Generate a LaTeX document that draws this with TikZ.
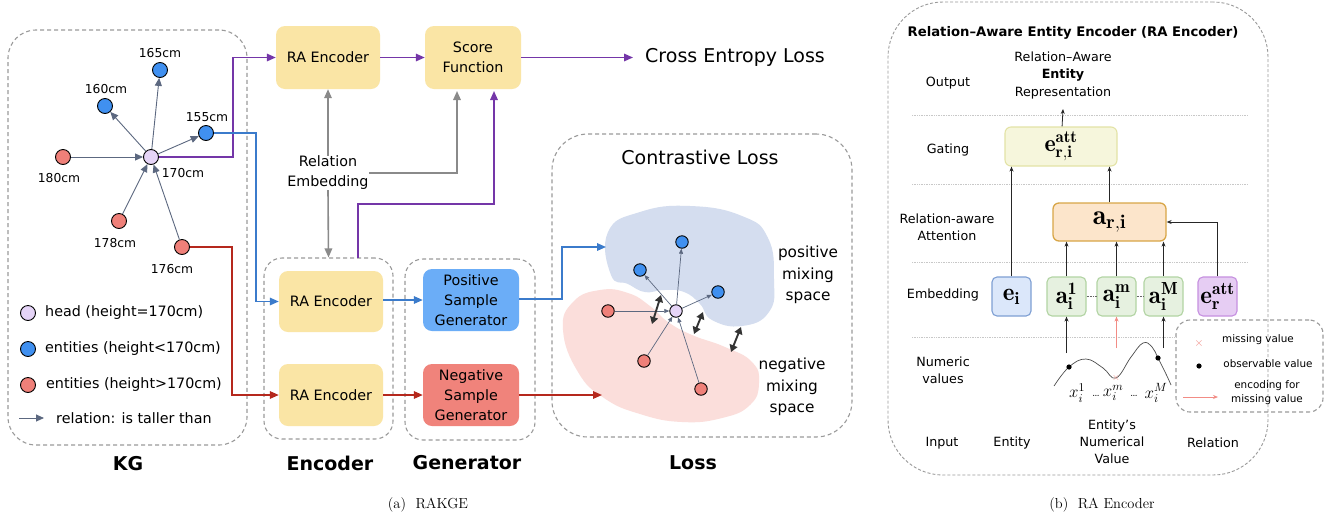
\RequirePackage{fix-cm}
\documentclass[tikz,border=0pt]{standalone}
\usepackage{fontspec}
\newfontfamily\dv{DejaVu Sans}
\usetikzlibrary{arrows.meta}
\newcommand\myfs[2]{\fontsize{#1}{#2}\selectfont}
\definecolor{cpurp}{HTML}{7436A8}
\definecolor{cblue}{HTML}{3B7BCB}
\definecolor{cred}{HTML}{B5281D}
\definecolor{cgray}{HTML}{8A8A8A}
\definecolor{kgedge}{HTML}{5C6880}
\definecolor{nblue}{HTML}{4090F0}
\definecolor{nred}{HTML}{EF8079}
\definecolor{nhead}{HTML}{E5D4F7}
\definecolor{yb}{HTML}{FAE5A5}
\definecolor{posb}{HTML}{6BADF7}
\definecolor{negb}{HTML}{F0837B}
\definecolor{blobb}{HTML}{D4DDEF}
\definecolor{blobr}{HTML}{FBDEDB}
\definecolor{dgray}{HTML}{9A9A9A}
\definecolor{gatef}{HTML}{F6F6DC}
\definecolor{gated}{HTML}{E3E3A6}
\definecolor{attf}{HTML}{FCE5CB}
\definecolor{attd}{HTML}{D8A647}
\definecolor{eif}{HTML}{DBE7FA}
\definecolor{eid}{HTML}{7E9FD3}
\definecolor{agf}{HTML}{E6F1E0}
\definecolor{agd}{HTML}{B2D4A3}
\definecolor{erf}{HTML}{E6CDF3}
\definecolor{erd}{HTML}{C690E0}
\definecolor{pinkc}{HTML}{F28C85}
\definecolor{sepc}{HTML}{C8C8C8}
\begin{document}
\begin{tikzpicture}[x=1pt,y=-1pt,
 grp/.style={draw=dgray, line width=1.1pt, dash pattern=on 4pt off 3pt, rounded corners=#1, inner sep=0pt},
 kgn/.style={circle, draw=black, line width=0.9pt, minimum size=15pt, inner sep=0pt},
 bn/.style={kgn, fill=nblue}, rn/.style={kgn, fill=nred}, hn/.style={kgn, fill=nhead},
 smalln/.style={minimum size=12.5pt},
 kge/.style={draw=kgedge, line width=0.9pt, -{Triangle[length=8pt,width=7pt]}},
 kges/.style={draw=kgedge, line width=0.7pt, -{Triangle[length=5pt,width=4pt]}},
 lbl/.style={font=\dv\myfs{12.3}{14}, inner sep=0pt},
 lgt/.style={font=\dv\myfs{14.3}{17}, inner sep=0pt, anchor=west},
 txt/.style={font=\dv\myfs{14.3}{20}, align=center, inner sep=0pt},
 boldlbl/.style={font=\dv\bfseries\myfs{19}{22}, inner sep=0pt},
 mbox/.style={rounded corners=9pt, align=center, font=\dv\myfs{14.3}{20}, inner sep=0pt},
 ybox/.style={mbox, fill=yb},
 lnpurp/.style={draw=cpurp, line width=1.6pt, -{Triangle[length=9pt,width=7.5pt]}},
 lnblue/.style={draw=cblue, line width=1.6pt, -{Triangle[length=9pt,width=7.5pt]}},
 lnred/.style={draw=cred, line width=1.6pt, -{Triangle[length=9pt,width=7.5pt]}},
 lngray/.style={draw=cgray, line width=1.6pt, -{Triangle[length=9pt,width=7.5pt]}},
 dblarr/.style={draw=black!80, line width=1.9pt, {Triangle[length=7pt,width=8pt]}-{Triangle[length=7pt,width=8pt]}},
 rl/.style={font=\dv\myfs{12.7}{17}, align=center, inner sep=0pt},
 ebox/.style={rounded corners=5pt, line width=1.1pt, minimum width=39pt, minimum height=39pt, inner sep=0pt, font=\myfs{25}{25}},
 raarr/.style={draw=black!85, line width=0.8pt, -{Stealth[length=5pt,width=4pt]}},
 sepline/.style={draw=sepc, line width=0.7pt, densely dotted},
 xlab/.style={font=\myfs{17}{17}, inner sep=0pt},
]
\useasboundingbox (0,0) rectangle (1338,523);
\fill[white] (0,0) rectangle (1338,523);

% ---------------- KG panel
\node[grp=28pt, minimum width=239pt, minimum height=415pt] (kgg) at (127.5,237.5) {};
\node[hn] (h) at (151,157) {};
\node[bn] (b165) at (160,70) {};
\node[bn] (b160) at (105,106) {};
\node[bn] (b155) at (206,133) {};
\node[rn] (r180) at (63,157) {};
\node[rn] (r178) at (119,221) {};
\node[rn] (r176) at (182,247) {};
\node[lbl] (l165) at (160,53) {165cm};
\node[lbl] (l160) at (106,89) {160cm};
\node[lbl] (l155) at (207,117) {155cm};
\node[lbl] (l170) at (183,173) {170cm};
\node[lbl] (l180) at (59,178) {180cm};
\node[lbl] (l178) at (115,243) {178cm};
\node[lbl] (l176) at (172,269) {176cm};
\draw[kge] (h) -- (b165);
\draw[kge] (h) -- (b160);
\draw[kge] (h) -- (b155);
\draw[kge] (r180) -- (h);
\draw[kge] (r178) -- (h);
\draw[kge] (r176) -- (h);
% legend
\node[hn] (lh) at (28,313) {};
\node[lgt] (lht) at (45,313) {head (height=170cm)};
\node[bn] (lb) at (28,349) {};
\node[lgt] (lbt) at (45,349) {entities (height<170cm)};
\node[rn] (lr) at (28,385) {};
\node[lgt] (lrt) at (46,385) {entities (height>170cm)};
\coordinate (la1) at (19,418);
\coordinate (la2) at (44,418);
\draw[kge] (la1) -- (la2);
\node[lgt] (lat) at (56,418) {relation: is taller than};
\node[boldlbl] (kgl) at (128,464) {KG};

% ---------------- middle
\node[ybox, minimum width=104pt, minimum height=63pt] (ra1) at (328,57.5) {RA Encoder};
\node[ybox, minimum width=96pt, minimum height=63pt] (sf) at (473,57.5) {Score\\Function};
\node[font=\dv\myfs{19}{22}, anchor=west, inner xsep=12pt, inner ysep=0pt] (ce) at (633,57.5) {Cross Entropy Loss};
\draw[lnpurp] (ra1) -- (sf);
\draw[lnpurp] (sf) -- (ce);
\node[txt] (re) at (328,173) {Relation\\Embedding};

\node[grp=18pt, minimum width=129pt, minimum height=181pt] (encg) at (328.5,348.5) {};
\node[grp=18pt, minimum width=130pt, minimum height=181pt] (geng) at (470,349.5) {};
\node[ybox, minimum width=104pt, minimum height=61pt] (ra2) at (331,301.5) {RA Encoder};
\node[ybox, minimum width=104pt, minimum height=62pt] (ra3) at (331,395) {RA Encoder};
\node[mbox, fill=posb, minimum width=96pt, minimum height=62pt] (pos) at (471,300) {Positive\\Sample\\Generator};
\node[mbox, fill=negb, minimum width=96pt, minimum height=62pt] (neg) at (471,395) {Negative\\Sample\\Generator};
\node[boldlbl] (encl) at (330,463) {Encoder};
\node[boldlbl] (genl) at (467,463) {Generator};

% connectors
\coordinate (pc1) at (233,157);
\draw[lnpurp] (h) -- (pc1) |- (ra1);
\coordinate (bc1) at (256,133);
\draw[lnblue] (b155) -- (bc1) |- (ra2);
\coordinate (rc1) at (232,247);
\draw[lnred] (r176) -- (rc1) |- (ra3);
\draw[lngray] (re.north) -- (ra1.south);
\coordinate (sfg) at (457,91);
\draw[lngray] (re.east) -| (sfg);
\draw[lngray] (re.south) -- (encg.north);
\coordinate (pp1) at (358,258);
\coordinate (pp2) at (494,204);
\coordinate (sfp) at (494,91);
\draw[lnpurp] (pp1) |- (pp2) -- (sfp);
\draw[lnblue] (ra2.east |- pos.west) -- (pos.west);
\draw[lnred] (ra3) -- (neg);

% ---------------- Loss panel
\node[grp=36pt, minimum width=300pt, minimum height=303pt] (lossg) at (702,285.5) {};
\node[font=\dv\myfs{19}{22}, inner sep=0pt] (ctl) at (700,157) {Contrastive Loss};
\node[boldlbl] (lossl) at (693,463) {Loss};
\fill[blobr] plot[smooth cycle, tension=0.8] coordinates {(563,330) (573,302) (600,290) (628,293) (650,306) (668,322) (692,335) (725,347) (752,362) (759,383) (750,405) (722,418) (682,422) (640,414) (604,398) (578,372)};
\fill[blobb] plot[smooth cycle, tension=0.8] coordinates {(608,232) (640,212) (690,206) (742,216) (768,238) (774,280) (769,312) (742,326) (712,320) (700,304) (684,292) (664,290) (645,292) (628,284) (611,275)};
\node[hn, smalln] (lh0) at (676,311) {};
\node[bn, smalln] (lb1) at (682,242) {};
\node[bn, smalln] (lb2) at (640,270) {};
\node[bn, smalln] (lb3) at (718,292) {};
\node[rn, smalln] (lr1) at (608,311) {};
\node[rn, smalln] (lr2) at (644,361) {};
\node[rn, smalln] (lr3) at (701,389) {};
\draw[kges] (lh0) -- (lb1);
\draw[kges] (lh0) -- (lb2);
\draw[kges] (lh0) -- (lb3);
\draw[kges] (lr1) -- (lh0);
\draw[kges] (lr2) -- (lh0);
\draw[kges] (lr3) -- (lh0);
\coordinate (d1a) at (661,295); \coordinate (d1b) at (652,324);
\coordinate (d2a) at (703,312); \coordinate (d2b) at (694,334);
\coordinate (d3a) at (741,327); \coordinate (d3b) at (731,352);
\draw[dblarr] (d1a) -- (d1b);
\draw[dblarr] (d2a) -- (d2b);
\draw[dblarr] (d3a) -- (d3b);
\node[font=\dv\myfs{15.3}{21.5}, align=center, inner sep=0pt] (pms) at (808,275) {positive\\mixing\\space};
\node[font=\dv\myfs{15.3}{21.5}, align=center, inner sep=0pt] (nms) at (792,387) {negative\\mixing\\space};
\coordinate (pin) at (606,247);
\coordinate (pc2) at (562,247);
\draw[lnblue] (pos.east |- 0,299) -| (pc2) -- (pin);
\coordinate (nin) at (602,395);
\draw[lnred] (neg) -- (nin);

% ---------------- RA Encoder panel
\node[draw=dgray, line width=0.9pt, dash pattern=on 3pt off 2pt, rounded corners=55pt, minimum width=380pt, minimum height=473pt, inner sep=0pt] (rag) at (1078,238.5) {};
\node[font=\dv\bfseries\myfs{13.2}{15}, inner sep=0pt] (rat) at (1073,33) {Relation–Aware Entity Encoder (RA Encoder)};
\draw[sepline] (912,115) -- (1248,115);
\draw[sepline] (912,184) -- (1248,184);
\draw[sepline] (912,262) -- (1248,262);
\draw[sepline] (912,337) -- (1176,337);
\node[rl] (outl) at (948,83) {Output};
\node[rl] (gatl) at (948,150) {Gating};
\node[rl] (attl) at (947,227) {Relation-aware\\Attention};
\node[rl] (embl) at (943,295) {Embedding};
\node[rl] (numl) at (943,370) {Numeric\\values};
\node[rl] (inpl) at (942,443) {Input};
\node[rl] (entl) at (1012,443) {Entity};
\node[rl] (nvl) at (1112,442) {Entity’s\\Numerical\\Value};
\node[rl] (rell) at (1213,443) {Relation};
\node[rl, font=\dv\myfs{12.7}{17.5}] (outt) at (1063,75) {Relation–Aware\\\textbf{Entity}\\Representation};

\node[rounded corners=6pt, draw=gated, fill=gatef, line width=1.1pt, minimum width=112pt, minimum height=39pt, inner sep=0pt, font=\myfs{24}{24}] (gate) at (1061,146.5) {$\mathbf{e}^{\mathbf{att}}_{\mathbf{r,i}}$};
\node[rounded corners=6pt, draw=attd, fill=attf, line width=1.3pt, minimum width=113pt, minimum height=38pt, inner sep=0pt, font=\myfs{28}{28}] (abox) at (1109.5,222) {$\mathbf{a}_{\mathbf{r,i}}$};
\node[ebox, draw=eid, fill=eif] (ei) at (1011.5,296.5) {$\mathbf{e}_{\mathbf{i}}$};
\node[ebox, draw=agd, fill=agf] (a1) at (1066.5,296.5) {$\mathbf{a}^{\mathbf{1}}_{\mathbf{i}}$};
\node[ebox, draw=agd, fill=agf] (am) at (1116.5,296.5) {$\mathbf{a}^{\mathbf{m}}_{\mathbf{i}}$};
\node[ebox, draw=agd, fill=agf] (aM) at (1163.5,296.5) {$\mathbf{a}^{\mathbf{M}}_{\mathbf{i}}$};
\node[ebox, draw=erd, fill=erf] (er) at (1217.5,296.5) {$\mathbf{e}^{\mathbf{att}}_{\mathbf{r}}$};
\draw[densely dotted, black!60, line width=0.6pt] (a1) -- (am);
\draw[densely dotted, black!60, line width=0.6pt] (am) -- (aM);

\coordinate (otip) at (1063,109);
\draw[raarr] (gate) -- (otip);
\draw[raarr] (ei.north) -- (ei.north |- gate.south);
\draw[raarr] (abox.north) -- (abox.north |- gate.south);
\draw[raarr] (a1.north) -- (a1.north |- abox.south);
\draw[raarr] (am.north) -- (am.north |- abox.south);
\draw[raarr] (aM.north) -- (aM.north |- abox.south);
\draw[raarr] (er.north) |- (abox.east);
\coordinate (x1t) at (1066.5,353);
\coordinate (xmt) at (1116.5,348);
\coordinate (xMt) at (1163.5,348);
\draw[raarr] (x1t) -- (a1.south);
\draw[raarr, draw=pinkc] (xmt) -- (am.south);
\draw[raarr] (xMt) -- (aM.south);
\draw[black!70, line width=0.7pt] plot[smooth, tension=0.7] coordinates {(1054,386) (1069,367) (1086,359) (1103,368) (1116,378) (1131,357) (1143,343) (1152,347) (1158,358) (1166,374) (1171,385)};
\fill[black] (1069,367) circle (2.6pt);
\fill[black] (1158,358) circle (2.6pt);
\node[text=pinkc, font=\myfs{10}{10}, inner sep=0pt] (xm) at (1116,378) {$\times$};
\node[xlab] (x1) at (1077,393) {$x_i^1$};
\node[font=\myfs{12}{12}, inner sep=0pt] (dd1) at (1096,396) {\dots};
\node[xlab] (xmm) at (1113,393) {$x_i^m$};
\node[font=\myfs{12}{12}, inner sep=0pt] (dd2) at (1134,396) {\dots};
\node[xlab] (xM) at (1156,393) {$x_i^M$};

% legend box
\node[grp=14pt, minimum width=147pt, minimum height=92pt] (lgb) at (1249.5,366) {};
\node[text=pinkc, font=\myfs{12}{12}, inner sep=0pt] (lgx) at (1199,343) {$\times$};
\node[font=\dv\myfs{10.4}{13}, inner sep=0pt] (lgxt) at (1258,340) {missing value};
\fill[black] (1199,366) circle (2.6pt);
\node[font=\dv\myfs{10.4}{13}, inner sep=0pt] (lgdt) at (1268,364) {observable value};
\coordinate (lga1) at (1183,397);
\coordinate (lga2) at (1218,397);
\draw[raarr, draw=pinkc, line width=1pt] (lga1) -- (lga2);
\node[font=\dv\myfs{10.4}{14}, align=center, inner sep=0pt] (lgat) at (1267,393) {encoding for\\missing value};

% captions
\node[font=\myfs{14.5}{16}, inner sep=0pt] (capa) at (428,505) {(a)\ \ RAKGE};
\node[font=\myfs{14.5}{16}, inner sep=0pt] (capb) at (1102,505) {(b)\ \ RA Encoder};
\end{tikzpicture}
\end{document}
